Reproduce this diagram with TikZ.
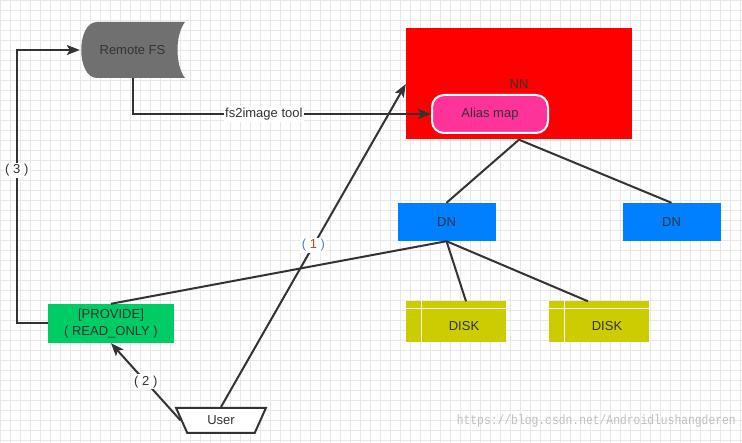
\documentclass[tikz,border=0pt]{standalone}
\usepackage{fontspec}
\setmainfont{Liberation Sans}
\newfontfamily\markfont{Liberation Mono}
\usetikzlibrary{arrows.meta,shapes.geometric,calc}
\definecolor{ink}{HTML}{333333}
\definecolor{gridgray}{HTML}{E8E8E8}
\definecolor{fsgray}{HTML}{707070}
\definecolor{nnred}{HTML}{FF0000}
\definecolor{aliaspink}{HTML}{FF3399}
\definecolor{dnblue}{HTML}{007FFF}
\definecolor{diskyellow}{HTML}{CCCC00}
\definecolor{provgreen}{HTML}{00CC66}
\definecolor{numblue}{HTML}{4F81BD}
\definecolor{numbrown}{HTML}{B0501E}

\begin{document}
\begin{tikzpicture}[x=1pt,y=-1pt,
  every node/.style={font=\fontsize{13}{17}\selectfont, text=ink},
  box/.style={minimum width=#1, minimum height=38, inner sep=0pt},
  disk/.style={box=100, minimum height=41, fill=diskyellow,
    path picture={
      \draw[white, line width=1.5pt]
        ($(path picture bounding box.north west)+(15.5,0)$) -- ($(path picture bounding box.south west)+(15.5,0)$)
        ($(path picture bounding box.north west)+(0,7)$) -- ($(path picture bounding box.north east)+(0,7)$);
    },
    label={[xshift=8pt,yshift=-4pt]center:DISK}},
  conn/.style={draw=ink, line width=2pt},
  arr/.style={conn, -{Stealth[length=13pt,width=10pt,inset=3pt]}},
  tag/.style={fill=white, inner sep=1.5pt}]
    \useasboundingbox (0,0) rectangle (742,443);
    \draw[gridgray, line width=0.8pt, step=10pt] (0,0) grid (742,443);

    \fill[fsgray] (97,22) -- (185,22) .. controls (175,35) and (175,65) .. (185,78)
        -- (97,78) .. controls (76,78) and (76,22) .. (97,22);
    \node[box=105, minimum height=56] (rfs) at (132.5,50) {Remote FS};
    \node[box=226, minimum height=111, fill=nnred] (nn) at (519,84) {NN};
    \node[box=116, rounded corners=12pt, fill=aliaspink, draw=white, line width=2pt] (alias) at (490,114) {Alias map};
    \node[box=98, fill=dnblue] (dn1) at (446.5,222) {DN};
    \node[box=98, fill=dnblue] (dn2) at (671.5,222) {DN};
    \node[disk] (disk1) at (456,322) {};
    \node[disk] (disk2) at (599,322) {};
    \node[box=126, minimum height=39, fill=provgreen, align=center] (prov) at (111,323.5) {[PROVIDE]\\( READ\_ONLY )};
    \node[trapezium, trapezium stretches=true, shape border rotate=180,
        trapezium left angle=63.4, trapezium right angle=63.4,
        minimum width=90, minimum height=25, inner sep=0pt,
        draw=ink, line width=2pt, fill=white] (user) at (221,420.5) {User};

    \draw[conn] (nn.south) -- (dn1.north);
    \draw[conn] (nn.south) -- (dn2.north);
    \draw[conn] (dn1.south) -- (prov.north);
    \draw[conn] (dn1.south) -- ($(disk1.north)+(10,0)$);
    \draw[conn] (dn1.south) -- ($(disk2.north)+(-11,0)$);
    \draw[arr] (user.north) -- node[tag] {\textcolor{numblue}{(} \textcolor{numbrown}{1} \textcolor{numblue}{)}} (nn.west);
    \draw[arr] (user.west) -- node[tag] {( 2 )} (prov.south);
    \draw[arr] (prov.west) -- ++(-31,0) coordinate (turn)
        -- node[tag, pos=0.56] {( 3 )} (turn |- rfs.west) -- (rfs.west);
    \draw[arr] (rfs.south) |- node[tag, pos=0.72] {fs2image tool} (alias.west);

    \node[font=\markfont\fontsize{13.5}{14}\selectfont, text=gray!50, anchor=east, inner sep=0pt] (mark) at (736,421) {\scalebox{0.84}[1]{https://blog.csdn.net/Androidlushangderen}};
\end{tikzpicture}
\end{document}
